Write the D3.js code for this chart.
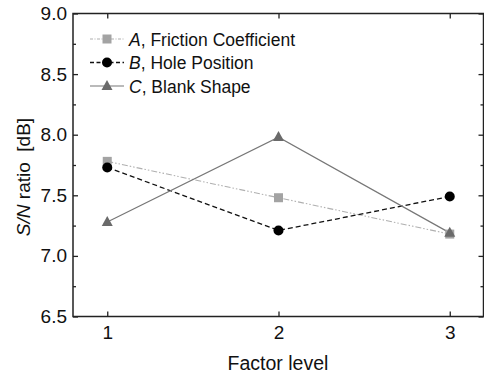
<!DOCTYPE html>
<meta charset="UTF-8">
<head>
<script src="https://cdn.jsdelivr.net/npm/d3@7/dist/d3.min.js"></script>
</head>
<style>
body { margin: 0; background: #fff; }
svg text { font-family: "Liberation Sans", Arial, sans-serif; fill: #111; }
.axis path { display: none; }
.axis line { stroke: #222; stroke-width: 1.3px; }
.axis text { font-size: 19px; }
</style>
<body>
<div id="chart"></div>
<script>
// factor levels and S/N ratios
var levels = [1, 2, 3];
var frictionA = [7.78, 7.48, 7.18];
var holeB = [7.73, 7.21, 7.49];
var blankC = [7.28, 7.98, 7.19];
var yTicks = [6.5, 7.0, 7.5, 8.0, 8.5, 9.0];
var yMinor = [6.75, 7.25, 7.75, 8.25, 8.75];

var W = 484, H = 378;
var plotL = 73, plotR = 483.5, plotT = 13.5, plotB = 316.5;

var svg = d3.select("#chart").append("svg")
    .attr("width", W).attr("height", H);

var x = d3.scaleLinear().domain([0.8, 3.2]).range([plotL, 484]);
var y = d3.scaleLinear().domain([6.5, 9.0]).range([plotB, plotT]);

// axes, ticks pointing inward
svg.append("g").attr("class", "axis")
    .attr("transform", "translate(" + plotL + ",0)")
    .call(d3.axisLeft(y).tickValues(yTicks).tickSize(-5).tickPadding(6)
      .tickFormat(d3.format(".1f")));
svg.append("g").attr("class", "axis")
    .attr("transform", "translate(" + plotL + ",0)")
    .call(d3.axisLeft(y).tickValues(yMinor).tickSize(-3).tickFormat(""));
svg.append("g").attr("class", "axis")
    .attr("transform", "translate(" + plotR + ",0)")
    .call(d3.axisRight(y).tickValues(yTicks).tickSize(-5).tickFormat(""));
svg.append("g").attr("class", "axis")
    .attr("transform", "translate(" + plotR + ",0)")
    .call(d3.axisRight(y).tickValues(yMinor).tickSize(-3).tickFormat(""));
svg.append("g").attr("class", "axis")
    .attr("transform", "translate(0," + plotB + ")")
    .call(d3.axisBottom(x).tickValues(levels).tickSize(-5).tickPadding(9)
      .tickFormat(d3.format("d")));
svg.append("g").attr("class", "axis")
    .attr("transform", "translate(0," + plotT + ")")
    .call(d3.axisTop(x).tickValues(levels).tickSize(-5).tickFormat(""));

// frame
svg.append("rect")
    .attr("x", plotL).attr("y", plotT)
    .attr("width", plotR - plotL).attr("height", plotB - plotT)
    .attr("fill", "none").attr("stroke", "#222").attr("stroke-width", 1.5);

// axis titles
svg.append("text")
    .attr("x", 278).attr("y", 370)
    .attr("text-anchor", "middle")
    .style("font-size", "19.5px")
    .text("Factor level");

var yt = svg.append("text")
    .attr("transform", "translate(30,177) rotate(-90)")
    .attr("text-anchor", "middle")
    .style("font-size", "19px");
yt.append("tspan").style("font-style", "italic").text("S/N");
yt.append("tspan").attr("xml:space", "preserve").text(" ratio  [dB]");

var series = [
  {key: "A", label: ", Friction Coefficient", values: frictionA,
   color: "#a3a3a3", lineColor: "#b0b0b0", dash: "6,2,1.5,2,1.5,2", width: 1.1, shape: "square"},
  {key: "B", label: ", Hole Position", values: holeB,
   color: "#000", lineColor: "#111", dash: "5,3", width: 1.3, shape: "circle"},
  {key: "C", label: ", Blank Shape", values: blankC,
   color: "#6a6a6a", lineColor: "#777", dash: null, width: 1.2, shape: "triangle"}
];

var line = d3.line()
    .x(function(d, i) { return x(levels[i]); })
    .y(function(d) { return y(d); });

function marker(g, shape, color) {
  if (shape === "square") {
    g.append("rect").attr("x", -4.5).attr("y", -4.5)
      .attr("width", 9).attr("height", 9).attr("fill", color);
  } else if (shape === "circle") {
    g.append("circle").attr("r", 5).attr("fill", color);
  } else {
    g.append("path").attr("d", "M0,-6L5.5,4L-5.5,4Z").attr("fill", color);
  }
}

series.forEach(function(s) {
  svg.append("path")
      .attr("d", line(s.values))
      .attr("fill", "none")
      .attr("stroke", s.lineColor)
      .attr("stroke-width", s.width)
      .attr("stroke-dasharray", s.dash);
});

series.forEach(function(s) {
  s.values.forEach(function(v, i) {
    var g = svg.append("g")
        .attr("transform", "translate(" + x(levels[i]) + "," + y(v) + ")");
    marker(g, s.shape, s.color);
  });
});

// legend
var legend = svg.append("g");
series.forEach(function(s, i) {
  var cy = 39 + i * 23.5;
  legend.append("line")
      .attr("x1", 90).attr("x2", 124)
      .attr("y1", cy).attr("y2", cy)
      .attr("stroke", s.lineColor)
      .attr("stroke-width", s.width)
      .attr("stroke-dasharray", s.dash ? (s.shape === "square" ? "3,1.5,1,1.5" : "4,2.5") : null);
  var g = legend.append("g").attr("transform", "translate(107," + cy + ")");
  marker(g, s.shape, s.color);
  var t = legend.append("text")
      .attr("x", 129).attr("y", cy + 6.5)
      .style("font-size", "17.5px");
  t.append("tspan").style("font-style", "italic").text(s.key);
  t.append("tspan").text(s.label);
});
</script>
</body>
